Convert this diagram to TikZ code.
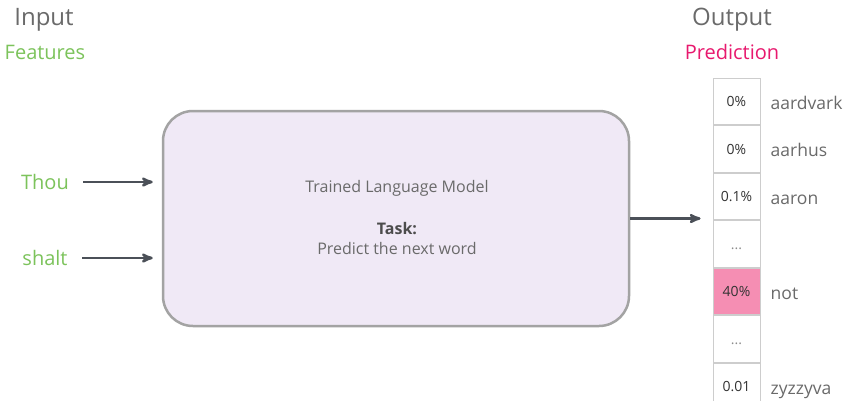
\documentclass[tikz,border=0pt]{standalone}
\usepackage{fontspec}
\setmainfont{Open Sans}
\usetikzlibrary{arrows,positioning}
\definecolor{featgreen}{HTML}{7CC35B}
\definecolor{predpink}{HTML}{E8196E}
\definecolor{cellpink}{HTML}{F58EB3}
\definecolor{boxfill}{HTML}{F0E9F6}
\definecolor{boxline}{HTML}{A3A3A3}
\definecolor{arrowgray}{HTML}{4B5058}
\definecolor{txtgray}{HTML}{6A6A6A}
\definecolor{cellline}{HTML}{CDCDCD}
\tikzset{
    >=stealth',
    kopf/.style={
           text=txtgray,
           font=\fontsize{24}{28}\selectfont},
    unter/.style={
           font=\fontsize{20}{24}\selectfont},
    wort/.style={
           text=featgreen,
           font=\fontsize{20}{24}\selectfont},
    boks/.style={
           rectangle,
           rounded corners=30pt,
           draw=boxline, line width=2.5pt,
           fill=boxfill,
           minimum width=466pt,
           minimum height=215pt},
    bokstxt/.style={
           text=txtgray,
           font=\fontsize{16}{19}\selectfont},
    celle/.style={
           rectangle,
           draw=cellline, line width=1pt,
           minimum width=47pt,
           minimum height=46.5pt,
           inner sep=0pt,
           text height=10pt, text depth=0pt,
           text=black!80,
           font=\fontsize{14}{16}\selectfont},
    etikett/.style={
           inner sep=0pt,
           text height=17pt, text depth=2pt,
           text=txtgray,
           font=\fontsize{17.5}{21}\selectfont},
    pil/.style={
           ->,
           draw=arrowgray,
           line width=2.5pt}
}

\begin{document}
\begin{tikzpicture}[x=1pt, y=-1pt]
        \fill[white] (0,0) rectangle (847,400);
        \useasboundingbox (0,0) rectangle (847,400);

        \node[kopf] (inp) at (44,20) {Input};
        \node[unter, text=featgreen] (feat) at (45,52) {Features};
        \node[kopf] (outp) at (732,20) {Output};
        \node[unter, text=predpink] (pred) at (732,52) {Prediction};

        \node[wort] (thou) at (45,182) {Thou};
        \node[wort] (shalt) at (45,258) {shalt};

        \node[boks] (lm) at (396,218.5) {};
        \node[bokstxt] (titel) at (397,188) {Trained Language Model};
        \node[bokstxt, text=black!70] (task) at (397,229) {\textbf{Task:}};
        \node[bokstxt] (pred) at (397,248) {Predict the next word};

        \node[celle] (c1) at (736.5,101.5) {0\%};
        \node[celle, below=0pt of c1] (c2) {0\%};
        \node[celle, below=0pt of c2] (c3) {0.1\%};
        \node[celle, below=0pt of c3, text=black!45] (c4) {...};
        \node[celle, below=0pt of c4, fill=cellpink] (c5) {40\%};
        \node[celle, below=0pt of c5, text=black!45] (c6) {...};
        \node[celle, below=0pt of c6] (c7) {0.01};

        \node[etikett, right=10pt of c1] (l1) {aardvark};
        \node[etikett, right=10pt of c2] (l2) {aarhus};
        \node[etikett, right=10pt of c3] (l3) {aaron};
        \node[etikett, right=10pt of c5] (l5) {not};
        \node[etikett, right=10pt of c7] (l7) {zyzzyva};

        \coordinate (ziel) at ([xshift=-12pt]c3.south west);

        \draw[pil, shorten <=11pt, shorten >=9pt] (thou.east) -- (thou.east -| lm.west);
        \draw[pil, shorten <=11pt, shorten >=9pt] (shalt.east) -- (shalt.east -| lm.west);
        \draw[pil] (lm.east) -- (lm.east -| ziel);
    \end{tikzpicture}
\end{document}
